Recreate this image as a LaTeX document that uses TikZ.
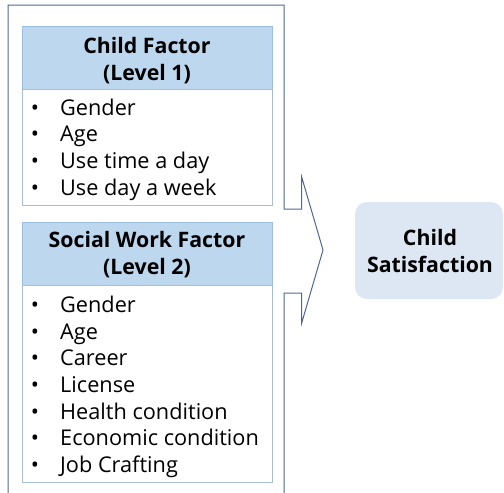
\documentclass[tikz,border=0pt]{standalone}
\usepackage{fontspec}
\setmainfont{Open Sans}[BoldFont={Open Sans Bold}]
\definecolor{outline}{RGB}{80,104,145}
\definecolor{hdrfill}{RGB}{189,215,238}
\definecolor{hdrline}{RGB}{157,190,225}
\definecolor{lstline}{RGB}{170,190,215}
\definecolor{satfill}{RGB}{220,231,243}
\newcommand{\itemfont}{\fontsize{21.7}{26.67}\selectfont}
\newcommand{\hdrfont}{\bfseries\fontsize{21.3}{26.67}\selectfont}
\tikzset{
  outer/.style={draw=outline, line width=1pt},
  hdr/.style={draw=hdrline, fill=hdrfill, minimum width=250pt, minimum height=63pt, inner sep=0pt},
  lst/.style={draw=lstline, fill=white, minimum width=250pt, inner sep=0pt},
  item/.style={anchor=base west, inner sep=0pt, font=\itemfont},
  bul/.style={anchor=base, inner sep=0pt, font=\itemfont},
  htext/.style={anchor=base, inner sep=0pt, font=\hdrfont},
  sat/.style={fill=satfill, rounded corners=12pt, minimum width=148pt, minimum height=97pt, inner sep=0pt},
}
\begin{document}
\begin{tikzpicture}[x=1pt,y=-1pt]
\useasboundingbox (0,0) rectangle (504,493);
% outer container with arrow
\coordinate (ob1) at (8,500);
\coordinate (ob2) at (284,500);
\draw[outer] (ob1) -- (8,5) -- (284,5) -- (284,209) -- (301.7,209) -- (301.7,177)
  -- (323,250) -- (301.7,323) -- (301.7,293) -- (284,293) -- (ob2);
% child factor
\node[hdr] (h1) at (147,57.5) {};
\node[lst, minimum height=116pt] (l1) at (147,147) {};
\node[htext] (h1a) at (147,53.3) {Child Factor};
\node[htext] (h1b) at (147,80) {(Level 1)};
\foreach \t [count=\i] in {Gender,Age,Use time a day,Use day a week}{
  \node[bul] (b1\i) at (35,115+26.67*\i-26.67) {•};
  \node[item] (i1\i) at (60,115+26.67*\i-26.67) {\t};
}
% social work factor
\node[hdr] (h2) at (147,253.5) {};
\node[lst, minimum height=197pt] (l2) at (147,383.5) {};
\node[htext] (h2a) at (147,247.5) {Social Work Factor};
\node[htext] (h2b) at (147,274) {(Level 2)};
\foreach \t [count=\i] in {Gender,Age,Career,License,Health condition,Economic condition,Job Crafting}{
  \node[bul] (b2\i) at (35,312.5+26.67*\i-26.67) {•};
  \node[item] (i2\i) at (60,312.5+26.67*\i-26.67) {\t};
}
% outcome
\node[sat] (s) at (429,250.5) {};
\node[htext] (sa) at (430,245) {Child};
\node[htext] (sb) at (430,272.7) {Satisfaction};
\end{tikzpicture}
\end{document}
